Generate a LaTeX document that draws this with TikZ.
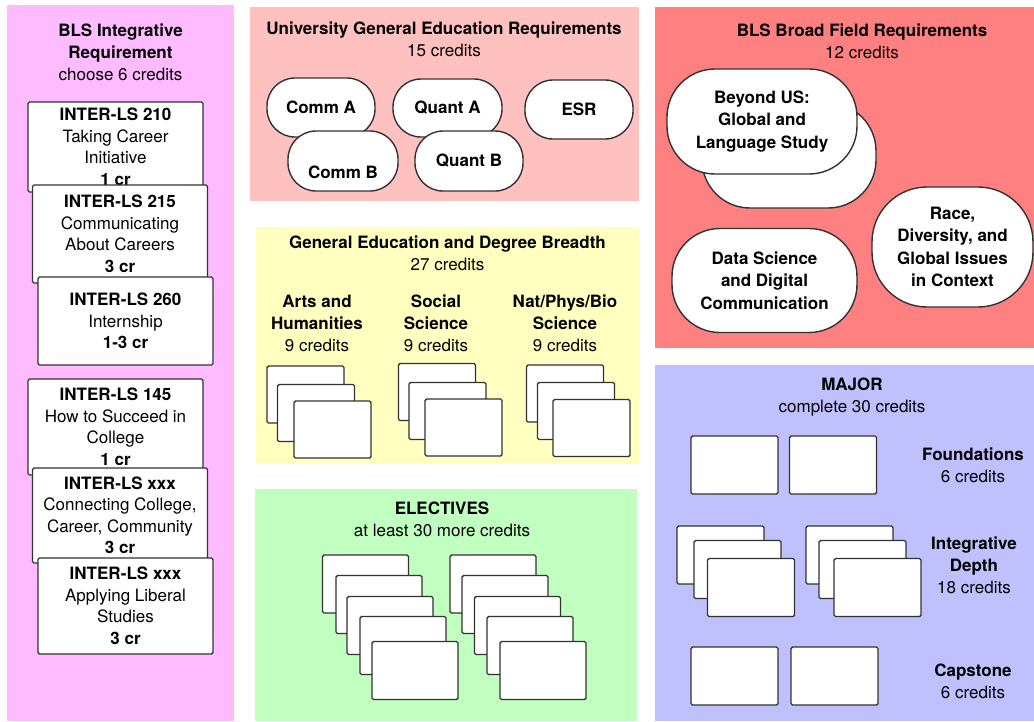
\documentclass[tikz,border=0pt]{standalone}
\usepackage{fontspec}
\setmainfont{TeX Gyre Heros}
\definecolor{pinkL}{RGB}{255,187,255}
\definecolor{roseL}{RGB}{255,192,192}
\definecolor{redL}{RGB}{255,128,128}
\definecolor{yelL}{RGB}{255,255,192}
\definecolor{grnL}{RGB}{192,255,192}
\definecolor{bluL}{RGB}{192,192,255}
\definecolor{edgec}{RGB}{50,50,50}
\tikzset{
  txt/.style={font=\fontsize{17}{21.5}\selectfont, align=center, text=black, inner sep=0pt},
  ttl/.style={font=\fontsize{17}{22}\selectfont, align=center, text=black, inner sep=0pt},
  card/.style={draw=edgec, fill=white, line width=1.4pt, rounded corners=1.5pt, inner sep=0pt},
  gcard/.style={card, minimum width=77pt, minimum height=57pt},
  ecard/.style={card, minimum width=86pt, minimum height=58pt},
  mcard/.style={card, minimum width=87pt, minimum height=58pt},
  lbox/.style={card, font=\fontsize{17}{21.5}\selectfont, align=center, text=black, minimum width=175pt},
  pill/.style={draw=edgec, fill=white, line width=1.4pt, font=\fontsize{17}{22.5}\selectfont\bfseries, align=center, text=black, rounded corners=28pt, inner sep=0pt},
  bigpill/.style={pill, rounded corners=48pt}
}
\begin{document}
\begin{tikzpicture}[x=1pt,y=-1pt]
\useasboundingbox (0,0) rectangle (1034,721);
% panels
\fill[pinkL] (7,5) rectangle (234,721);
\fill[roseL] (250,7) rectangle (639,201);
\fill[redL] (655,7) rectangle (1034,348);
\fill[yelL] (256,227) rectangle (639,463);
\fill[grnL] (255,489) rectangle (637,721);
\fill[bluL] (655,365) rectangle (1034,721);

% ---- left panel
\node[ttl] (bliT) at (120.5,52) {\textbf{BLS Integrative}\\\textbf{Requirement}\\choose 6 credits};
\node[lbox, minimum height=90pt] (b1) at (115.5,147) {\textbf{INTER-LS 210}\\Taking Career\\Initiative\\\textbf{1 cr}};
\node[lbox, minimum height=98pt] (b2) at (120,234) {\textbf{INTER-LS 215}\\Communicating\\About Careers\\\textbf{3 cr}};
\node[lbox, minimum height=88pt] (b3) at (125.5,321) {\textbf{INTER-LS 260}\\Internship\\\textbf{1-3 cr}};
\node[lbox, minimum height=96pt] (b4) at (115.5,427) {\textbf{INTER-LS 145}\\How to Succeed in\\College\\\textbf{1 cr}};
\node[lbox, minimum height=95pt] (b5) at (120,515.5) {\textbf{INTER-LS xxx}\\Connecting College,\\Career, Community\\\textbf{3 cr}};
\node[lbox, minimum height=96pt] (b6) at (125.5,606) {\textbf{INTER-LS xxx}\\Applying Liberal\\Studies\\\textbf{3 cr}};

% ---- university gen ed
\node[ttl] (ugT) at (444,39.5) {\textbf{University General Education Requirements}\\15 credits};
\node[pill, minimum width=108pt, minimum height=59pt] (commA) at (321,107.5) {Comm A};
\node[pill, minimum width=110pt, minimum height=60pt] (commB) at (343,161) {};
\node[ttl, font=\fontsize{17}{22}\selectfont\bfseries] (commBt) at (343,172) {Comm B};
\node[pill, minimum width=109pt, minimum height=58pt] (quantA) at (447.5,108) {Quant A};
\node[pill, minimum width=108pt, minimum height=60pt] (quantB) at (469,161) {Quant B};
\node[pill, minimum width=108pt, minimum height=59pt] (esr) at (579,109.5) {ESR};

% ---- BLS broad field
\node[ttl] (bfT) at (862,41) {\textbf{BLS Broad Field Requirements}\\12 credits};
\node[bigpill, minimum width=174pt, minimum height=105pt] (beyB) at (789,155.5) {};
\node[bigpill, minimum width=190pt, minimum height=105pt] (beyF) at (762,121.5) {Beyond US:\\Global and\\Language Study};
\node[bigpill, minimum width=185pt, minimum height=104pt] (data) at (764.5,280.5) {Data Science\\and Digital\\Communication};
\node[bigpill, rounded corners=55pt, minimum width=161pt, minimum height=120pt] (race) at (952.5,247) {Race,\\Diversity, and\\Global Issues\\in Context};

% ---- gen ed breadth
\node[ttl] (gbT) at (447.5,253.5) {\textbf{General Education and Degree Breadth}\\27 credits};
\node[ttl] (artsT) at (317,323) {\textbf{Arts and}\\\textbf{Humanities}\\9 credits};
\node[ttl] (socT) at (436,323) {\textbf{Social}\\\textbf{Science}\\9 credits};
\node[ttl] (natT) at (565,323) {\textbf{Nat/Phys/Bio}\\\textbf{Science}\\9 credits};
\node[gcard] (a1) at (305.5,394.5) {};
\node[gcard] (a2) at (316,413) {};
\node[gcard] (a3) at (332.5,429.5) {};
\node[gcard] (s1) at (437,392) {};
\node[gcard] (s2) at (447.5,411) {};
\node[gcard] (s3) at (463.5,427.5) {};
\node[gcard] (n1) at (565,393.5) {};
\node[gcard] (n2) at (576,411) {};
\node[gcard] (n3) at (591.5,428) {};

% ---- electives
\node[ttl] (elT) at (442,519) {\textbf{ELECTIVES}\\at least 30 more credits};
\node[ecard] (e1) at (365.5,584) {};
\node[ecard] (e2) at (379,604.5) {};
\node[ecard] (e3) at (390,625.5) {};
\node[ecard] (e4) at (403,645.5) {};
\node[ecard] (e5) at (415,670.5) {};
\node[ecard] (f1) at (493,584) {};
\node[ecard] (f2) at (505,604.5) {};
\node[ecard] (f3) at (517.5,625.5) {};
\node[ecard] (f4) at (530,645.5) {};
\node[ecard] (f5) at (543,670.5) {};

% ---- major
\node[ttl] (mjT) at (852,397.5) {\textbf{MAJOR}\\complete 30 credits};
\node[mcard] (fo1) at (734.5,465) {};
\node[mcard] (fo2) at (833,465) {};
\node[ttl] (foT) at (973,465.5) {\textbf{Foundations}\\6 credits};
\node[mcard] (i1) at (720.5,555) {};
\node[mcard] (i2) at (737.5,569.5) {};
\node[mcard] (i3) at (751,587.5) {};
\node[mcard] (j1) at (849.5,555) {};
\node[mcard] (j2) at (862.5,569.5) {};
\node[mcard] (j3) at (877.5,587.5) {};
\node[ttl] (idT) at (974,565.5) {\textbf{Integrative}\\\textbf{Depth}\\18 credits};
\node[mcard] (c1) at (734.5,676) {};
\node[mcard] (c2) at (834.5,676) {};
\node[ttl] (cpT) at (973,681.5) {\textbf{Capstone}\\6 credits};
\end{tikzpicture}
\end{document}
